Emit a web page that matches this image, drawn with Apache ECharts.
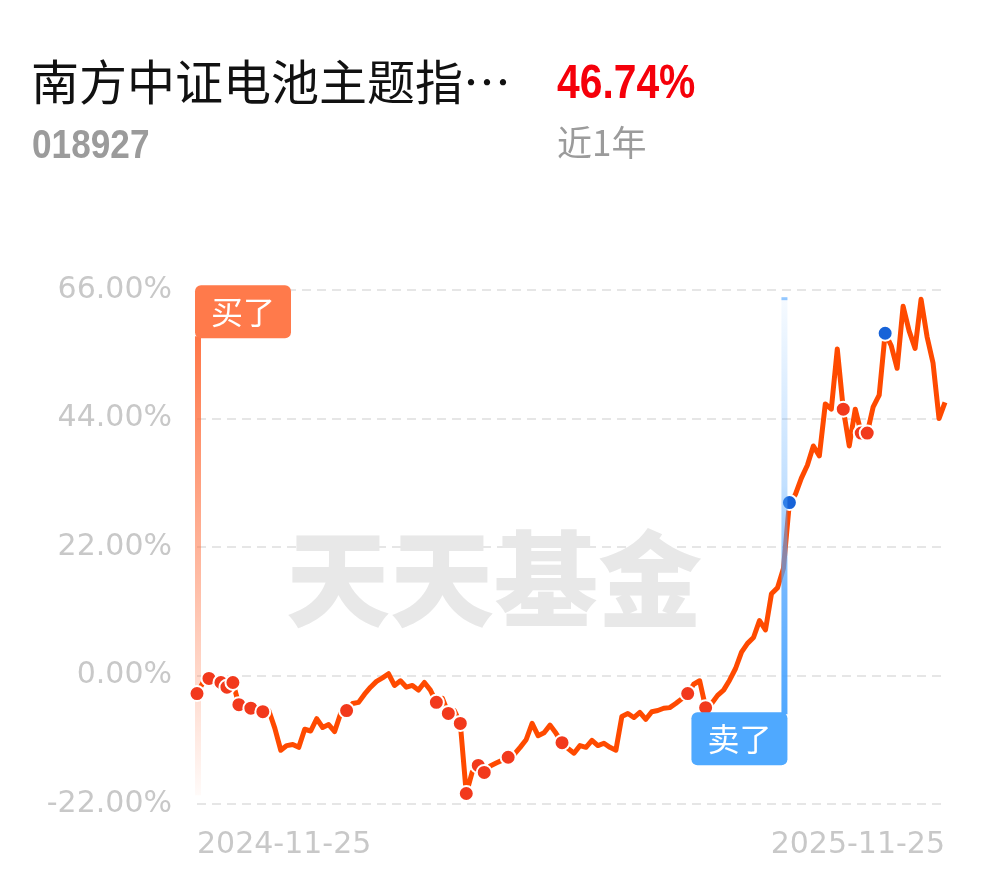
<!DOCTYPE html>
<html>
<head>
<meta charset="utf-8">
<script src="https://cdn.jsdelivr.net/npm/echarts@6/dist/echarts.min.js"></script>
<style>
html,body{margin:0;padding:0;background:#fff;}
#chart{width:990px;height:878px;}
</style>
</head>
<body>
<div id="chart"></div>
<script>
// ---- data ----
var fundName = '南方中证电池主题指…';
var fundCode = '018927';
var periodReturn = '46.74%';
var periodLabel = '近1年';
var xTickLabels = ['2024-11-25', '2025-11-25'];
var yTicks = [-22, 0, 22, 44, 66];
var returns = [
  -3.1, -1.2, -0.5, -1.5, -1.2, -2.0, -1.2, -5.0, -5.2, -5.6,
  -6.0, -6.2, -6.0, -9.0, -12.8, -12.0, -11.8, -12.3, -9.2, -9.5,
  -7.4, -8.9, -8.4, -9.6, -6.5, -6.0, -4.8, -4.6, -3.2, -2.0,
  -1.0, -0.4, 0.3, -1.7, -0.9, -2.0, -1.7, -2.5, -1.2, -2.5,
  -4.6, -3.9, -6.5, -6.0, -8.2, -20.2, -16.5, -15.4, -16.6, -15.5,
  -15.0, -14.5, -14.0, -13.5, -12.3, -11.0, -8.2, -10.3, -9.8, -8.5,
  -9.9, -11.5, -12.5, -13.3, -12.0, -12.3, -11.1, -12.0, -11.6, -12.3,
  -12.8, -7.0, -6.5, -7.2, -6.3, -7.5, -6.2, -6.0, -5.6, -5.5,
  -4.8, -4.0, -3.1, -1.5, -0.9, -5.5, -4.8, -3.4, -2.5, -0.8,
  1.2, 4.0, 5.5, 6.5, 9.4, 7.8, 14.0, 15.0, 18.3, 29.6,
  31.0, 33.8, 36.0, 39.3, 37.6, 46.5, 45.6, 55.9, 45.6, 39.3,
  45.6, 41.5, 41.5, 46.0, 48.0, 58.6, 56.5, 52.6, 63.2, 59.0,
  56.0, 64.4, 58.0, 53.5, 44.0, 46.74
];
var buyPointIdx = [0, 2, 4, 5, 6, 7, 9, 11, 25, 40, 42, 44, 45, 47, 48, 52, 61, 82, 85, 108, 111, 112];
var sellPointIdx = [99, 115];
var buyFlagIdx = 0;
var sellFlagIdx = 98;
var buyFlagText = '买了';
var sellFlagText = '卖了';
var watermark = '天天基金';

// ---- build ----
var categories = returns.map(function (_, i) { return i; });
var last = returns.length - 1;
var buyPts = buyPointIdx.map(function (i) { return [i, returns[i]]; });
var sellPts = sellPointIdx.map(function (i) { return [i, returns[i]]; });

var chart = echarts.init(document.getElementById('chart'));
var labelColor = '#C8C8C8';
var axisFont = { fontFamily: 'DejaVu Sans', fontWeight: 'normal', fontSize: 30, color: labelColor };

chart.setOption({
  animation: false,
  backgroundColor: '#fff',
  grid: { left: 197, right: 45, top: 290, bottom: 74, containLabel: false },
  xAxis: {
    type: 'category',
    data: categories,
    boundaryGap: false,
    axisLine: { show: false },
    axisTick: { show: false },
    splitLine: { show: false },
    axisLabel: Object.assign({
      margin: 26,
      interval: function (idx) { return idx === 0 || idx === last; },
      formatter: function (v, idx) { return idx === 0 ? xTickLabels[0] : (idx === last ? xTickLabels[1] : ''); },
      alignMinLabel: 'left',
      alignMaxLabel: 'right',
      showMinLabel: true,
      showMaxLabel: true
    }, axisFont)
  },
  yAxis: {
    type: 'value',
    min: yTicks[0],
    max: yTicks[yTicks.length - 1],
    interval: 22,
    axisLine: { show: false },
    axisTick: { show: false },
    axisLabel: Object.assign({
      margin: 25,
      formatter: function (v) { return v.toFixed(2) + '%'; }
    }, axisFont),
    splitLine: { show: true, lineStyle: { color: '#E6E6E6', width: 2, type: [9, 6] } }
  },
  graphic: [
    { type: 'text', left: 31, top: 58, style: { text: fundName, font: '48px "Noto Sans CJK SC"', fill: '#111' } },
    { type: 'text', x: 557, y: 61, scaleX: 0.85, style: { text: periodReturn, font: 'bold 48px "Liberation Sans"', fill: '#F5000A' } },
    { type: 'text', x: 32, y: 127, scaleX: 0.88, style: { text: fundCode, font: 'bold 40px "Liberation Sans"', fill: '#9B9B9B' } },
    { type: 'text', left: 557, top: 125, style: { text: periodLabel, font: '35px "Noto Sans CJK SC"', fill: '#9B9B9B' } },
    { type: 'text', left: 286, top: 527, z: 0, style: { text: watermark, font: '900 104px "Noto Sans CJK SC"', fill: '#E8E8E8' } }
  ],
  series: [
    {
      type: 'line',
      data: returns,
      showSymbol: false,
      symbol: 'none',
      z: 3,
      lineStyle: { color: '#FF4A00', width: 5, join: 'round' }
    },
    {
      type: 'scatter',
      data: buyPts,
      symbolSize: 15,
      z: 4,
      itemStyle: { color: '#F2391C', borderColor: '#fff', borderWidth: 2, opacity: 1 }
    },
    {
      type: 'scatter',
      data: sellPts,
      symbolSize: 15,
      z: 4,
      itemStyle: { color: '#1763D8', borderColor: '#fff', borderWidth: 2, opacity: 1 }
    }
  ]
});

// ---- buy / sell flags positioned through the axes ----
function px(idx, val) { return chart.convertToPixel({ xAxisIndex: 0, yAxisIndex: 0 }, [idx, val]); }
var bTop = px(buyFlagIdx, 66.8);
var bBarEnd = px(buyFlagIdx, -20.5);
var sTop = px(sellFlagIdx, 64.6);
var sBoxTop = px(sellFlagIdx, -6.3);
var boxW = 96, boxH = 53, barW = 6;
var bx = bTop[0] - 2;
var sx = sTop[0] + 4;

var flags = [
  { type: 'rect', z: 1, shape: { x: bx, y: bTop[1] + boxH - 2, width: barW, height: bBarEnd[1] - bTop[1] - boxH + 2 },
    style: { fill: new echarts.graphic.LinearGradient(0, 0, 0, 1, [
      { offset: 0, color: 'rgba(255,110,60,0.95)' }, { offset: 1, color: 'rgba(255,110,60,0.03)' }]) } },
  { type: 'rect', z: 1, shape: { x: bx, y: bTop[1], width: boxW, height: boxH, r: 6 }, style: { fill: '#FF7A4B' } },
  { type: 'text', z: 1, x: bx + boxW / 2, y: bTop[1] + boxH / 2,
    style: { text: buyFlagText, font: '32px "Noto Sans CJK SC"', fill: '#fff', align: 'center', verticalAlign: 'middle' } },
  { type: 'rect', z: 10, shape: { x: sx - barW, y: sTop[1], width: barW, height: sBoxTop[1] - sTop[1] + 2 },
    style: { fill: new echarts.graphic.LinearGradient(0, 0, 0, 1, [
      { offset: 0, color: 'rgba(80,165,255,0.05)' }, { offset: 0.45, color: 'rgba(80,165,255,0.35)' },
      { offset: 0.7, color: 'rgba(80,165,255,0.8)' }, { offset: 1, color: 'rgba(80,168,255,1)' }]) } },
  { type: 'rect', z: 10, shape: { x: sx - barW, y: sTop[1] - 1, width: barW, height: 3 }, style: { fill: 'rgba(80,165,255,0.6)' } },
  { type: 'rect', z: 10, shape: { x: sx - boxW, y: sBoxTop[1], width: boxW, height: boxH, r: 6 }, style: { fill: '#4FA9FF' } },
  { type: 'text', z: 10, x: sx - boxW / 2, y: sBoxTop[1] + boxH / 2,
    style: { text: sellFlagText, font: '32px "Noto Sans CJK SC"', fill: '#fff', align: 'center', verticalAlign: 'middle' } }
];
var opt = chart.getOption();
chart.setOption({ graphic: opt.graphic[0].elements.concat(flags) }, { replaceMerge: ['graphic'] });
</script>
</body>
</html>
